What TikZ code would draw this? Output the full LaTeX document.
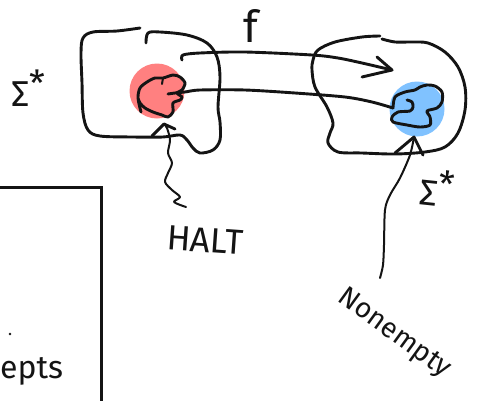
\documentclass[tikz,border=0pt]{standalone}
\usepackage{fontspec}
\setmainfont{Fira Sans}
\definecolor{haltred}{RGB}{255,128,128}
\definecolor{setblue}{RGB}{128,194,255}
\definecolor{pen}{RGB}{20,20,20}
\begin{document}
\begin{tikzpicture}[x=1pt,y=-1pt,
  ink/.style={draw=pen, line width=2.9pt, line cap=round, line join=round},
  fineink/.style={draw=pen, line width=2pt, line cap=round, line join=round},
  blob/.style={circle, minimum size=55pt, inner sep=0pt},
  lbl/.style={inner sep=0pt, text=pen}]
\useasboundingbox[fill=white] (0,0) rectangle (490,400);

% shaded subsets
\node[blob, fill=haltred] (halt) at (157,91) {};
\node[blob, fill=setblue] (nonempty) at (417,109) {};

% left universe Sigma*
\draw[ink] plot[smooth, tension=0.55] coordinates {
  (146,43) (148,33) (160,32) (187,35) (207,43) (217,57) (220,77) (218,107)
  (220,122) (220,140) (213,150) (200,153) (193,148) (187,140) (180,135)
  (163,137) (133,137) (100,136) (88,130) (83,113) (82,83) (81,53) (83,38)
  (93,32) (117,31) (140,28)};

% right universe Sigma*
\draw[ink] plot[smooth, tension=0.55] coordinates {
  (380,36) (362,37) (335,42) (318,50) (313,60) (312,70) (315,87) (327,107)
  (333,123) (330,133) (328,143) (338,152) (362,153) (395,154) (425,152)
  (445,147) (458,133) (465,110) (465,87) (458,67) (445,52) (428,43)
  (412,42) (395,42) (382,39)};

% scribbled elements inside the subsets
\draw[ink] plot[smooth, tension=0.5] coordinates {
  (141,112) (138,98) (140,88) (147,82) (155,78) (163,78) (173,75) (180,77)
  (185,83) (182,90) (177,93) (182,97) (180,100) (173,103) (173,112)
  (168,117) (162,115) (153,112) (145,108) (140,103) (138,98)};
\draw[fineink] (163,78) -- (162,84);
\draw[ink] plot[smooth, tension=0.5] coordinates {
  (393,108) (395,97) (405,92) (415,90) (420,87) (427,85) (435,86) (442,92)
  (442,102) (437,108) (427,111) (430,117) (430,125) (420,127) (407,125)
  (393,122) (392,117) (398,112) (410,111) (413,107) (412,102) (407,100)};

% connector endpoints
\coordinate (fstart) at (182,60);
\coordinate (ftip) at (392,70);
\coordinate (gstart) at (168,94);
\coordinate (gtip) at (393,108);
\coordinate (htip) at (164,124);
\coordinate (ntip) at (414,137);

% the map f
\draw[ink] plot[smooth, tension=0.5] coordinates {
  (fstart) (183,55) (200,53) (245,52) (312,55) (338,58) (362,63) (ftip)};
\draw[ink] (377,57) -- (ftip) -- (362,77);
\draw[ink] plot[smooth, tension=0.5] coordinates {
  (gstart) (175,93) (185,92) (200,90) (245,90) (295,93) (345,97) (372,102) (gtip)};

% labels
\node[lbl, font=\fontsize{36}{40}\selectfont] (sigl) at (28,88) {Σ\raisebox{10pt}{*}};
\node[lbl, font=\fontsize{36}{40}\selectfont, rotate=-6] (sigr) at (437,188) {Σ\raisebox{10pt}{*}};
\node[lbl, font=\fontsize{44}{48}\selectfont] (flbl) at (251,26) {f};
\node[lbl, font=\fontsize{35}{38}\selectfont, rotate=-4] (haltlbl) at (205,240) {HALT};
\node[lbl, font=\fontsize{28}{30}\selectfont, rotate=-36] (nelbl) at (394,334) {Nonempty};

% pointers from the labels to the subsets
\draw[fineink] plot[smooth, tension=0.5] coordinates {
  (186,207) (174,202) (180,197) (172,190) (165,182) (168,173) (172,163)
  (168,153) (170,140) (167,128) (htip)};
\draw[ink] (152,136) -- (htip) -- (175,129);
\draw[fineink] plot[smooth, tension=0.5] coordinates {
  (380,278) (383,265) (384,245) (385,210) (390,195) (400,178) (410,155) (ntip)};
\draw[ink] (395,153) -- (ntip) -- (423,155);

% partly visible box at the lower left
\draw[draw=pen, line width=3pt] (-2,187) -- (101,187) -- (101,402);
\node[lbl, font=\fontsize{32}{34}\selectfont, anchor=base west] (epts) at (0,378) {epts};
\fill[pen] (10,334) circle (1.4pt);
\end{tikzpicture}
\end{document}
